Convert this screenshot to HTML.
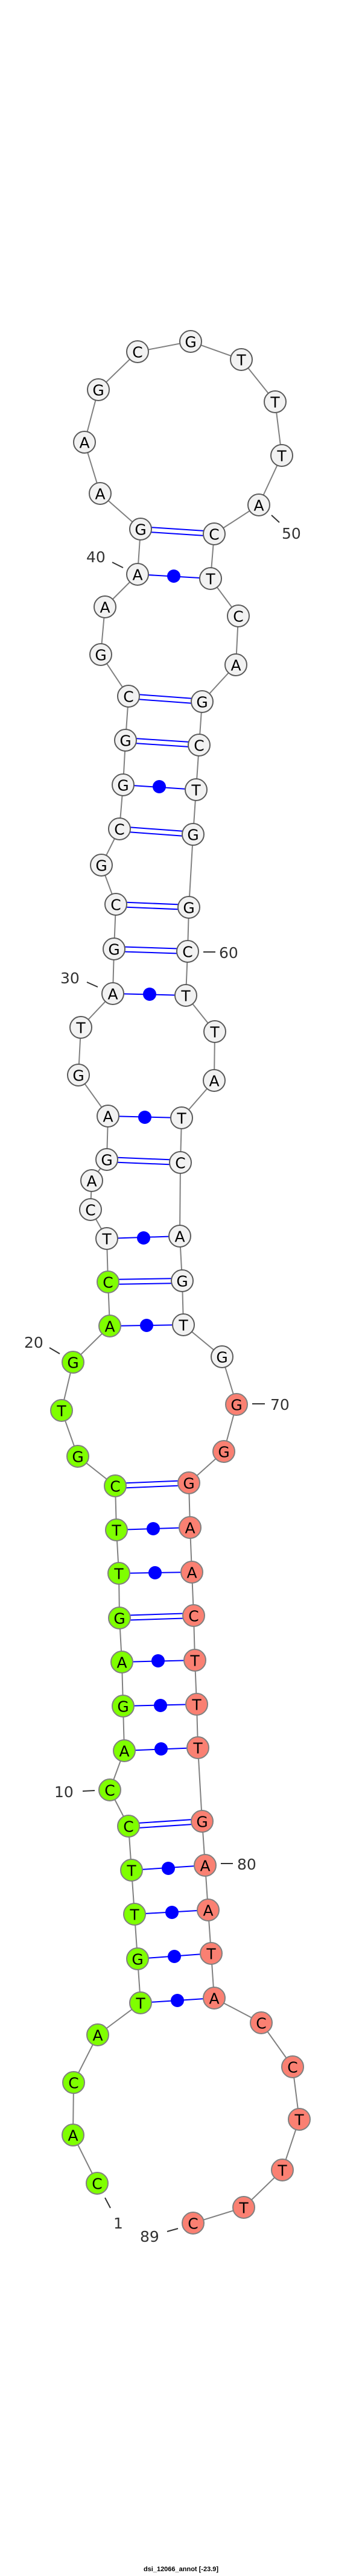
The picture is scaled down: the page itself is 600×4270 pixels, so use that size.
<!DOCTYPE html>
<html><head><meta charset="utf-8"><style>
html,body{margin:0;padding:0;background:#fff;}
svg{display:block;}
.n text{font-family:"DejaVu Sans","Liberation Sans",sans-serif;font-size:25px;text-anchor:middle;dominant-baseline:central;fill:#000;}
.lb{font-family:"DejaVu Sans","Liberation Sans",sans-serif;font-size:25px;fill:#333;}
</style></head><body>
<svg width="600" height="4270" viewBox="0 0 600 4270" xmlns="http://www.w3.org/2000/svg">
<rect width="600" height="4270" fill="#fff"/>
<!-- backbone -->
<polyline fill="none" stroke="#808080" stroke-width="2" points="161,3619 121,3539 122,3452 162,3373 233,3320 228,3247 223,3173 218,3100 213,3027 182,2967 206,2902 204,2828 202,2755 198,2682 197,2608 193,2536 191,2463 129,2414 102,2338 121,2258 182,2198 179,2125 177,2053 150,2005 152,1957 177,1922 179,1850 130,1782 134,1703 187,1647 189,1573 192,1499 168,1434 198,1374 204,1301 208,1227 213,1154 167,1085 174,1006 228,952 233,877 166,818 140,733 163,646 228,583 316,566 400,596 456,666 467,755 429,837 355,885 349,959 395,1021 391,1102 335,1163 330,1235 325,1309 320,1383 313,1504 311,1577 308,1650 356,1710 355,1791 301,1853 299,1927 298,2049 302,2123 304,2196 368,2249 392,2328 371,2406 313,2458 315,2532 318,2606 321,2678 323,2752 326,2825 328,2897 335,3019 340,3092 345,3166 350,3238 355,3312 433,3353 485,3426 496,3513 468,3597 404,3659 320,3685"/>
<!-- pairs -->
<g stroke="#0000ff" stroke-width="2" fill="none">
<!-- dot pairs single lines -->
<line x1="233" y1="3320" x2="355" y2="3312"/>
<line x1="228" y1="3247" x2="350" y2="3238"/>
<line x1="223" y1="3173" x2="345" y2="3166"/>
<line x1="218" y1="3100" x2="340" y2="3092"/>
<line x1="206" y1="2902" x2="328" y2="2897"/>
<line x1="204" y1="2828" x2="326" y2="2825"/>
<line x1="202" y1="2755" x2="323" y2="2752"/>
<line x1="197" y1="2608" x2="318" y2="2606"/>
<line x1="193" y1="2536" x2="315" y2="2532"/>
<line x1="182" y1="2198" x2="304" y2="2196"/>
<line x1="177" y1="2053" x2="298" y2="2049"/>
<line x1="179" y1="1850" x2="301" y2="1853"/>
<line x1="187" y1="1647" x2="308" y2="1650"/>
<line x1="204" y1="1301" x2="325" y2="1309"/>
<line x1="228" y1="952" x2="349" y2="959"/>
<!-- double lines -->
<line x1="213" y1="3023" x2="335" y2="3015"/><line x1="213" y1="3031" x2="335" y2="3023"/>
<line x1="198" y1="2678" x2="321" y2="2674"/><line x1="198" y1="2686" x2="321" y2="2682"/>
<line x1="191" y1="2459" x2="313" y2="2454"/><line x1="191" y1="2467" x2="313" y2="2462"/>
<line x1="179" y1="2121" x2="302" y2="2119"/><line x1="179" y1="2129" x2="302" y2="2127"/>
<line x1="177" y1="1918" x2="299" y2="1923"/><line x1="177" y1="1926" x2="299" y2="1931"/>
<line x1="189" y1="1569" x2="311" y2="1573"/><line x1="189" y1="1577" x2="311" y2="1581"/>
<line x1="192" y1="1495" x2="313" y2="1500"/><line x1="192" y1="1503" x2="313" y2="1508"/>
<line x1="198" y1="1370" x2="320" y2="1379"/><line x1="198" y1="1378" x2="320" y2="1387"/>
<line x1="208" y1="1223" x2="330" y2="1231"/><line x1="208" y1="1231" x2="330" y2="1239"/>
<line x1="213" y1="1150" x2="335" y2="1159"/><line x1="213" y1="1158" x2="335" y2="1167"/>
<line x1="233" y1="873" x2="355" y2="881"/><line x1="233" y1="881" x2="355" y2="889"/>
</g>
<g fill="#0000ff">
<circle cx="294" cy="3316" r="11"/><circle cx="289" cy="3243" r="11"/><circle cx="285" cy="3170" r="11"/><circle cx="279" cy="3097" r="11"/>
<circle cx="267" cy="2899" r="11"/><circle cx="266" cy="2827" r="11"/><circle cx="262" cy="2753" r="11"/>
<circle cx="257" cy="2607" r="11"/><circle cx="254" cy="2534" r="11"/><circle cx="243" cy="2197" r="11"/>
<circle cx="238" cy="2052" r="11"/><circle cx="240" cy="1852" r="11"/><circle cx="248" cy="1648" r="11"/>
<circle cx="264" cy="1304" r="11"/><circle cx="288" cy="955" r="11"/>
</g>
<!-- label ticks -->
<g stroke="#333" stroke-width="2">
<line x1="174" y1="3643" x2="183" y2="3660"/>
<line x1="277" y1="3699" x2="295" y2="3694"/>
<line x1="137" y1="2969" x2="157" y2="2968"/>
<line x1="366" y1="3089" x2="386" y2="3089"/>
<line x1="82" y1="2234" x2="99" y2="2244"/>
<line x1="418" y1="2327" x2="439" y2="2327"/>
<line x1="144" y1="1628" x2="162" y2="1636"/>
<line x1="337" y1="1578" x2="357" y2="1578"/>
<line x1="186" y1="932" x2="204" y2="941"/>
<line x1="450" y1="854" x2="463" y2="866"/>
</g>
<g class="lb">
<text x="188" y="3694">1</text>
<text x="232" y="3716">89</text>
<text x="90" y="2979">10</text>
<text x="393" y="3099">80</text>
<text x="40" y="2234">20</text>
<text x="448" y="2337">70</text>
<text x="100" y="1630">30</text>
<text x="363" y="1588">60</text>
<text x="143" y="932">40</text>
<text x="467" y="893">50</text>
</g>
<!-- nodes -->
<g class="n" stroke-width="2">
<g stroke="#808080" fill="#7fff00">
<circle cx="161" cy="3619" r="18"/><circle cx="121" cy="3539" r="18"/><circle cx="122" cy="3452" r="18"/><circle cx="162" cy="3373" r="18"/>
<circle cx="233" cy="3320" r="18"/><circle cx="228" cy="3247" r="18"/><circle cx="223" cy="3173" r="18"/><circle cx="218" cy="3100" r="18"/>
<circle cx="213" cy="3027" r="18"/><circle cx="182" cy="2967" r="18"/><circle cx="206" cy="2902" r="18"/><circle cx="204" cy="2828" r="18"/>
<circle cx="202" cy="2755" r="18"/><circle cx="198" cy="2682" r="18"/><circle cx="197" cy="2608" r="18"/><circle cx="193" cy="2536" r="18"/>
<circle cx="191" cy="2463" r="18"/><circle cx="129" cy="2414" r="18"/><circle cx="102" cy="2338" r="18"/><circle cx="121" cy="2258" r="18"/>
<circle cx="182" cy="2198" r="18"/><circle cx="179" cy="2125" r="18"/>
</g>
<g stroke="#5a5a5a" fill="#f2f2f2">
<circle cx="177" cy="2053" r="18"/><circle cx="150" cy="2005" r="18"/><circle cx="152" cy="1957" r="18"/><circle cx="177" cy="1922" r="18"/>
<circle cx="179" cy="1850" r="18"/><circle cx="130" cy="1782" r="18"/><circle cx="134" cy="1703" r="18"/><circle cx="187" cy="1647" r="18"/>
<circle cx="189" cy="1573" r="18"/><circle cx="192" cy="1499" r="18"/><circle cx="168" cy="1434" r="18"/><circle cx="198" cy="1374" r="18"/>
<circle cx="204" cy="1301" r="18"/><circle cx="208" cy="1227" r="18"/><circle cx="213" cy="1154" r="18"/><circle cx="167" cy="1085" r="18"/>
<circle cx="174" cy="1006" r="18"/><circle cx="228" cy="952" r="18"/><circle cx="233" cy="877" r="18"/><circle cx="166" cy="818" r="18"/>
<circle cx="140" cy="733" r="18"/><circle cx="163" cy="646" r="18"/><circle cx="228" cy="583" r="18"/><circle cx="316" cy="566" r="18"/>
<circle cx="400" cy="596" r="18"/><circle cx="456" cy="666" r="18"/><circle cx="467" cy="755" r="18"/><circle cx="429" cy="837" r="18"/>
<circle cx="355" cy="885" r="18"/><circle cx="349" cy="959" r="18"/><circle cx="395" cy="1021" r="18"/><circle cx="391" cy="1102" r="18"/>
<circle cx="335" cy="1163" r="18"/><circle cx="330" cy="1235" r="18"/><circle cx="325" cy="1309" r="18"/><circle cx="320" cy="1383" r="18"/>
<circle cx="313" cy="1504" r="18"/><circle cx="311" cy="1577" r="18"/><circle cx="308" cy="1650" r="18"/><circle cx="356" cy="1710" r="18"/>
<circle cx="355" cy="1791" r="18"/><circle cx="301" cy="1853" r="18"/><circle cx="299" cy="1927" r="18"/><circle cx="298" cy="2049" r="18"/>
<circle cx="302" cy="2123" r="18"/><circle cx="304" cy="2196" r="18"/><circle cx="368" cy="2249" r="18"/>
</g>
<g stroke="#808080" fill="#fa8072">
<circle cx="392" cy="2328" r="18"/><circle cx="371" cy="2406" r="18"/><circle cx="313" cy="2458" r="18"/><circle cx="315" cy="2532" r="18"/>
<circle cx="318" cy="2606" r="18"/><circle cx="321" cy="2678" r="18"/><circle cx="323" cy="2752" r="18"/><circle cx="326" cy="2825" r="18"/>
<circle cx="328" cy="2897" r="18"/><circle cx="335" cy="3019" r="18"/><circle cx="340" cy="3092" r="18"/><circle cx="345" cy="3166" r="18"/>
<circle cx="350" cy="3238" r="18"/><circle cx="355" cy="3312" r="18"/><circle cx="433" cy="3353" r="18"/><circle cx="485" cy="3426" r="18"/>
<circle cx="496" cy="3513" r="18"/><circle cx="468" cy="3597" r="18"/><circle cx="404" cy="3659" r="18"/><circle cx="320" cy="3685" r="18"/>
</g>
<text x="161" y="3620">C</text><text x="121" y="3540">A</text><text x="122" y="3453">C</text><text x="162" y="3374">A</text>
<text x="233" y="3321">T</text><text x="228" y="3248">G</text><text x="223" y="3174">T</text><text x="218" y="3101">T</text>
<text x="213" y="3028">C</text><text x="182" y="2968">C</text><text x="206" y="2903">A</text><text x="204" y="2829">G</text>
<text x="202" y="2756">A</text><text x="198" y="2683">G</text><text x="197" y="2609">T</text><text x="193" y="2537">T</text>
<text x="191" y="2464">C</text><text x="129" y="2415">G</text><text x="102" y="2339">T</text><text x="121" y="2259">G</text>
<text x="182" y="2199">A</text><text x="179" y="2126">C</text><text x="177" y="2054">T</text><text x="150" y="2006">C</text>
<text x="152" y="1958">A</text><text x="177" y="1923">G</text><text x="179" y="1851">A</text><text x="130" y="1783">G</text>
<text x="134" y="1704">T</text><text x="187" y="1648">A</text><text x="189" y="1574">G</text><text x="192" y="1500">C</text>
<text x="168" y="1435">G</text><text x="198" y="1375">C</text><text x="204" y="1302">G</text><text x="208" y="1228">G</text>
<text x="213" y="1155">C</text><text x="167" y="1086">G</text><text x="174" y="1007">A</text><text x="228" y="953">A</text>
<text x="233" y="878">G</text><text x="166" y="819">A</text><text x="140" y="734">A</text><text x="163" y="647">G</text>
<text x="228" y="584">C</text><text x="316" y="567">G</text><text x="400" y="597">T</text><text x="456" y="667">T</text>
<text x="467" y="756">T</text><text x="429" y="838">A</text><text x="355" y="886">C</text><text x="349" y="960">T</text>
<text x="395" y="1022">C</text><text x="391" y="1103">A</text><text x="335" y="1164">G</text><text x="330" y="1236">C</text>
<text x="325" y="1310">T</text><text x="320" y="1384">G</text><text x="313" y="1505">G</text><text x="311" y="1578">C</text>
<text x="308" y="1651">T</text><text x="356" y="1711">T</text><text x="355" y="1792">A</text><text x="301" y="1854">T</text>
<text x="299" y="1928">C</text><text x="298" y="2050">A</text><text x="302" y="2124">G</text><text x="304" y="2197">T</text>
<text x="368" y="2250">G</text><text x="392" y="2329">G</text><text x="371" y="2407">G</text><text x="313" y="2459">G</text>
<text x="315" y="2533">A</text><text x="318" y="2607">A</text><text x="321" y="2679">C</text><text x="323" y="2753">T</text>
<text x="326" y="2826">T</text><text x="328" y="2898">T</text><text x="335" y="3020">G</text><text x="340" y="3093">A</text>
<text x="345" y="3167">A</text><text x="350" y="3239">T</text><text x="355" y="3313">A</text><text x="433" y="3354">C</text>
<text x="485" y="3427">C</text><text x="496" y="3514">T</text><text x="468" y="3598">T</text><text x="404" y="3660">T</text>
<text x="320" y="3686">C</text>
</g>
<text x="300" y="4262" text-anchor="middle" font-family="'Liberation Sans','DejaVu Sans',sans-serif" font-size="11" font-weight="bold" fill="#000">dsi_12066_annot [-23.9]</text>
</svg>
</body></html>
